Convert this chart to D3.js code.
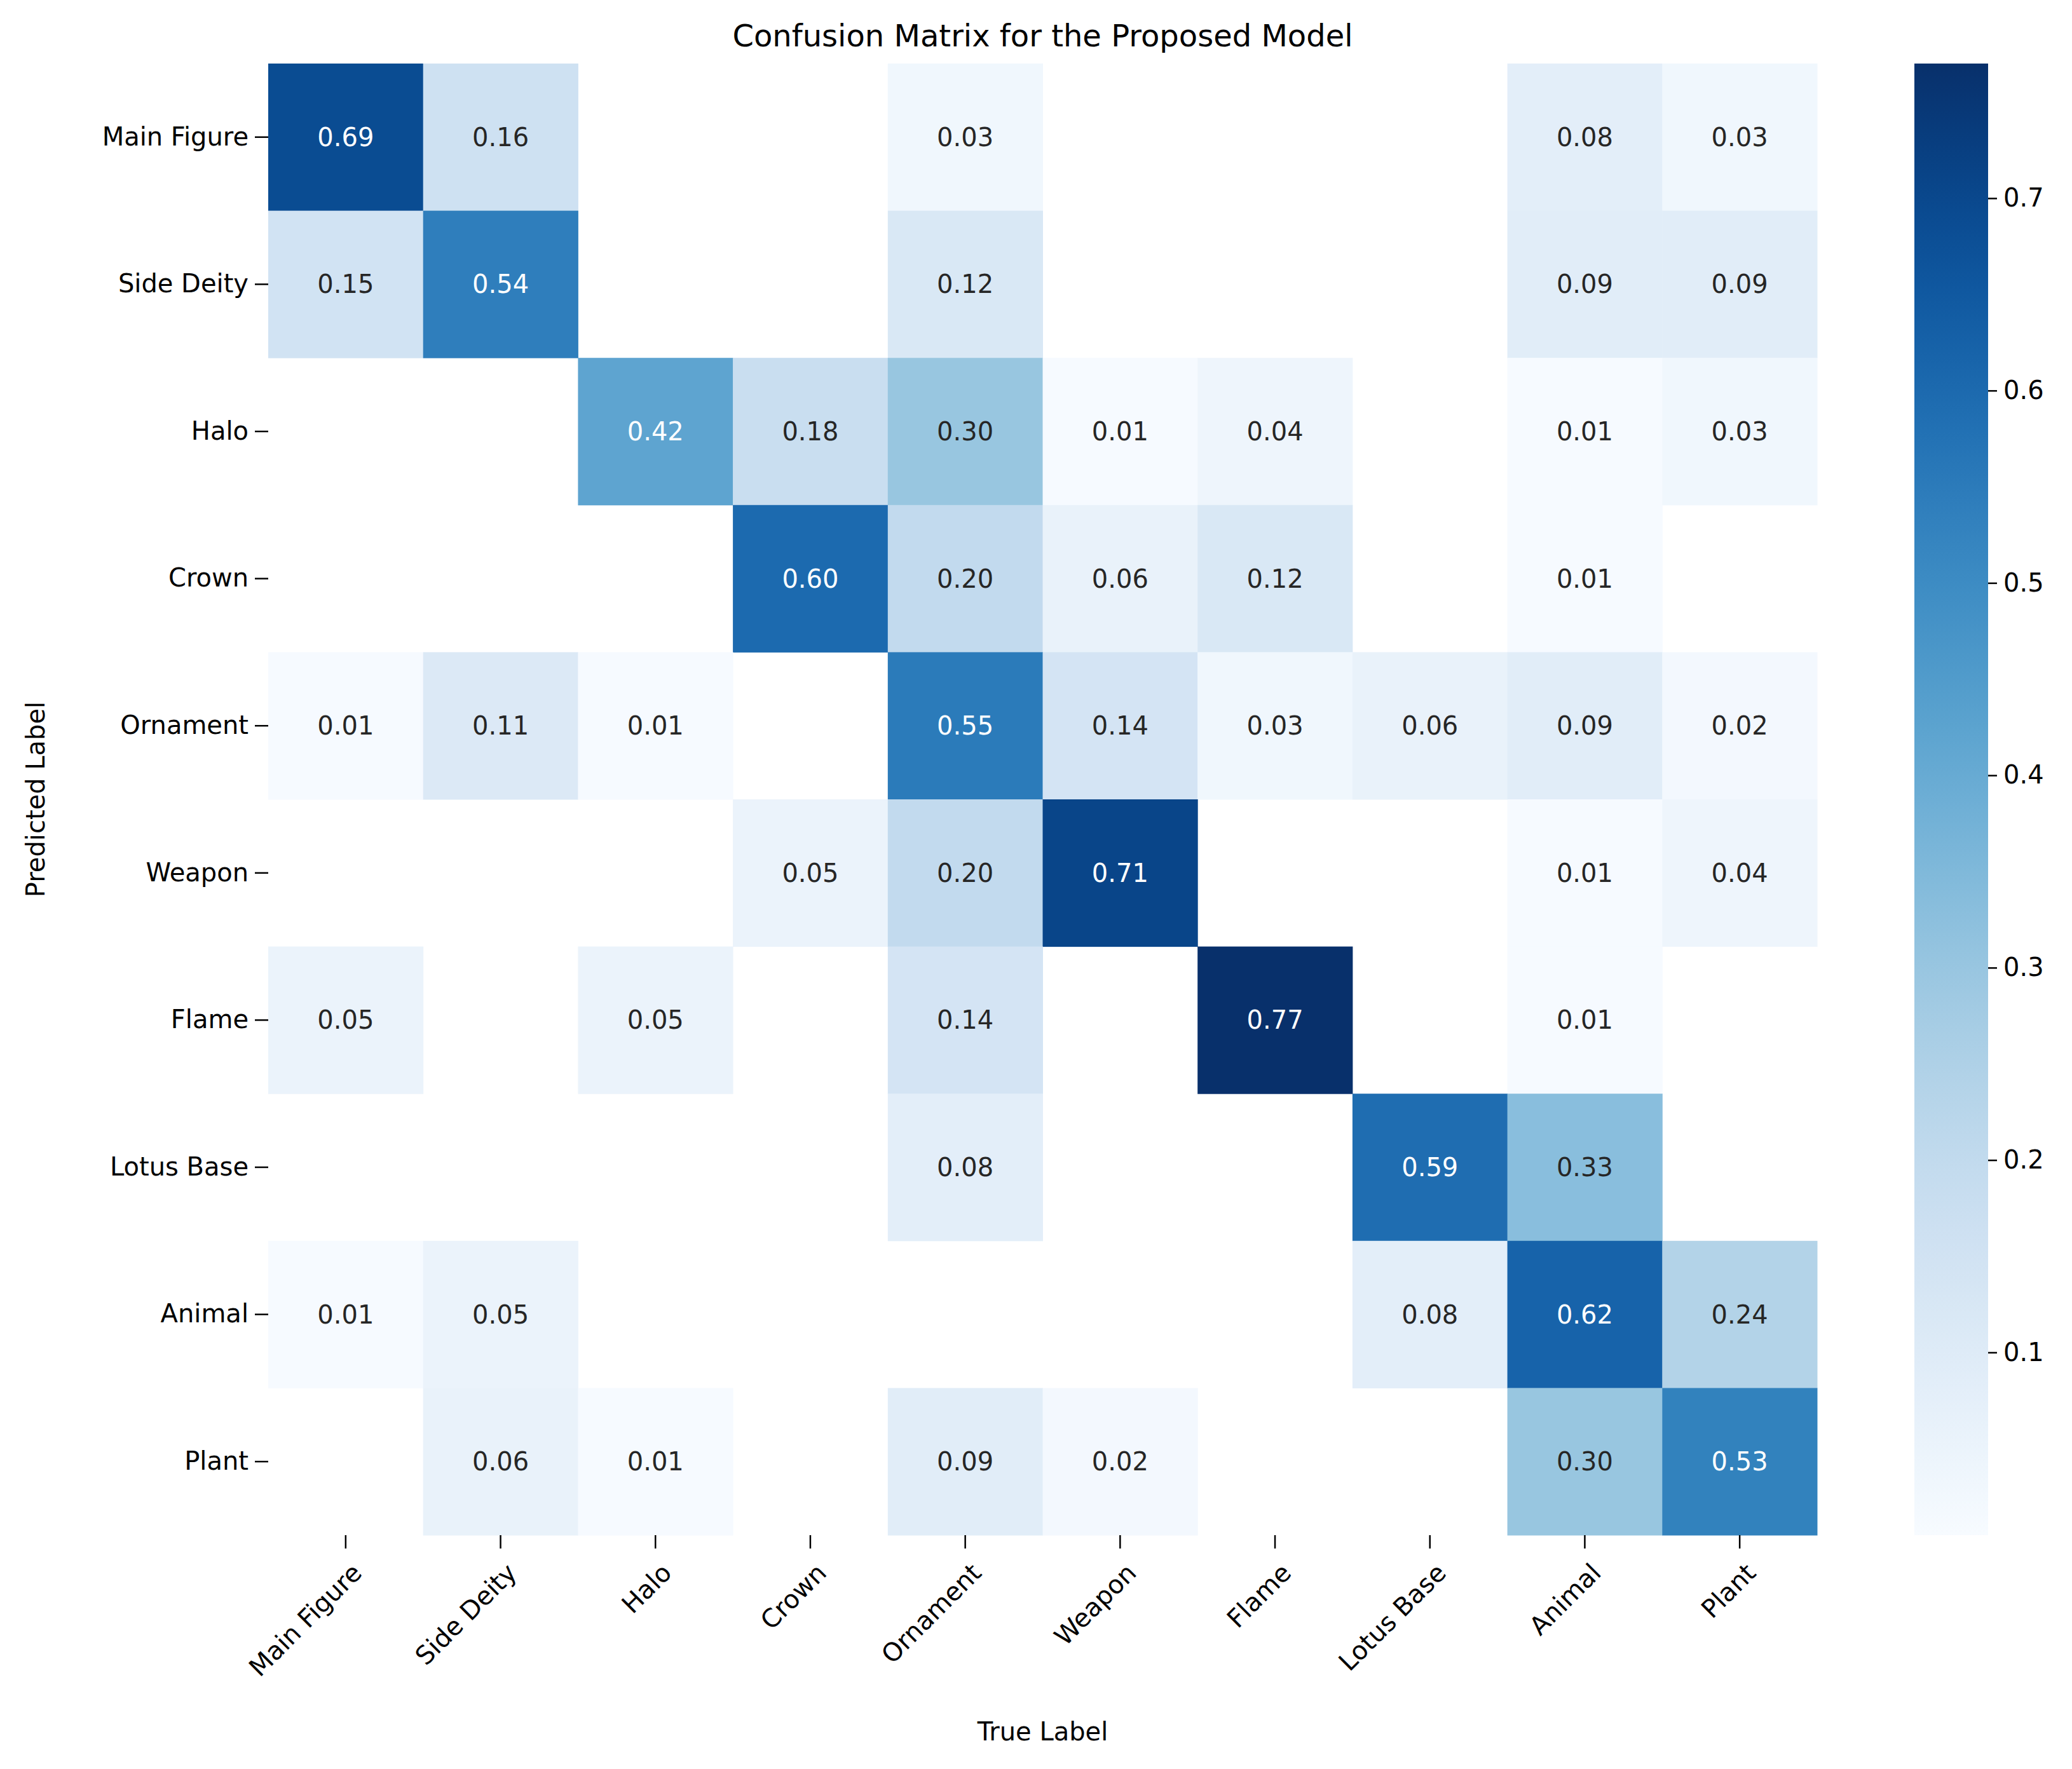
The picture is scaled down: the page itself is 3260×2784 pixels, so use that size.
<!DOCTYPE html><html><head><meta charset="utf-8">
<script src="https://cdn.jsdelivr.net/npm/d3@7"></script>
<style>body{margin:0;background:#fff}text{font-family:"DejaVu Sans",sans-serif}</style></head>
<body><svg id="c" width="3260" height="2784"></svg>
<script>
const labels=["Main Figure","Side Deity","Halo","Crown","Ornament","Weapon","Flame","Lotus Base","Animal","Plant"];
const mainFigure=[0.69,0.16,0,0,0.03,0,0,0,0.08,0.03];
const sideDeity=[0.15,0.54,0,0,0.12,0,0,0,0.09,0.09];
const halo=[0,0,0.42,0.18,0.30,0.01,0.04,0,0.01,0.03];
const crown=[0,0,0,0.60,0.20,0.06,0.12,0,0.01,0];
const ornament=[0.01,0.11,0.01,0,0.55,0.14,0.03,0.06,0.09,0.02];
const weapon=[0,0,0,0.05,0.20,0.71,0,0,0.01,0.04];
const flame=[0.05,0,0.05,0,0.14,0,0.77,0,0.01,0];
const lotusBase=[0,0,0,0,0.08,0,0,0.59,0.33,0];
const animal=[0.01,0.05,0,0,0,0,0,0.08,0.62,0.24];
const plant=[0,0.06,0.01,0,0.09,0.02,0,0,0.30,0.53];
const matrix=[mainFigure,sideDeity,halo,crown,ornament,weapon,flame,lotusBase,animal,plant];
const cbTicks=[0.1,0.2,0.3,0.4,0.5,0.6,0.7];
const vmin=0.005,vmax=0.77;

const svg=d3.select("#c");
const L=422,R=2859,T=100,B=2416;
const x=d3.scaleBand().domain(labels).range([L,R]);
const y=d3.scaleBand().domain(labels).range([T,B]);
const color=d3.scaleSequential(d3.interpolateBlues).domain([vmin,vmax]);
const cells=[];
matrix.forEach((row,i)=>row.forEach((v,j)=>{if(v>0)cells.push({r:labels[i],c:labels[j],v});}));
svg.selectAll("rect.cell").data(cells).join("rect").attr("x",d=>x(d.c)).attr("y",d=>y(d.r))
 .attr("width",x.bandwidth()+0.5).attr("height",y.bandwidth()+0.5).attr("fill",d=>color(d.v));
svg.selectAll("text.val").data(cells).join("text").attr("x",d=>x(d.c)+x.bandwidth()/2).attr("y",d=>y(d.r)+y.bandwidth()/2)
 .attr("text-anchor","middle").attr("dominant-baseline","central").attr("font-size",40)
 .attr("fill",d=>d.v>0.4?"#fff":"#262626").text(d=>d.v.toFixed(2));

const ya=svg.append("g").attr("transform",`translate(${L},0)`).call(d3.axisLeft(y).tickSize(21).tickPadding(10));
ya.select(".domain").remove();
ya.selectAll("line").attr("stroke","#000").attr("stroke-width",2.5);
ya.selectAll("text").attr("font-size",40).attr("fill","#000").attr("font-family","DejaVu Sans");
const xa=svg.append("g").attr("transform",`translate(0,${B})`).call(d3.axisBottom(x).tickSize(21).tickPadding(10));
xa.select(".domain").remove();
xa.selectAll("line").attr("stroke","#000").attr("stroke-width",2.5);
xa.selectAll("text").attr("font-size",40).attr("fill","#000").attr("font-family","DejaVu Sans")
 .attr("text-anchor","end").attr("dy","0.7em").attr("transform","translate(0,22) rotate(-45)").attr("y",0).attr("x",0);
xa.selectAll(".tick text").attr("transform","translate(8,42) rotate(-45)");

svg.append("text").attr("x",(L+R)/2).attr("y",56).attr("text-anchor","middle").attr("dominant-baseline","central")
 .attr("font-size",48).text("Confusion Matrix for the Proposed Model");
svg.append("text").attr("x",(L+R)/2).attr("y",2725).attr("text-anchor","middle").attr("dominant-baseline","central")
 .attr("font-size",40).text("True Label");
svg.append("text").attr("transform",`translate(56,${(T+B)/2}) rotate(-90)`).attr("text-anchor","middle").attr("dominant-baseline","central")
 .attr("font-size",40).text("Predicted Label");

// colorbar
const cx0=3012,cx1=3128;
const cy=d3.scaleLinear().domain([vmin,vmax]).range([B,T]);
const defs=svg.append("defs");
const g=defs.append("linearGradient").attr("id","cb").attr("x1",0).attr("x2",0).attr("y1",1).attr("y2",0);
d3.range(0,1.001,0.05).forEach(t=>g.append("stop").attr("offset",t).attr("stop-color",d3.interpolateBlues(t)));
svg.append("rect").attr("x",cx0).attr("y",T).attr("width",cx1-cx0).attr("height",B-T).attr("fill","url(#cb)");
const ca=svg.append("g").attr("transform",`translate(${cx1},0)`).call(d3.axisRight(cy).tickValues(cbTicks).tickFormat(d3.format(".1f")).tickSize(14).tickPadding(10));
ca.select(".domain").remove();
ca.selectAll("line").attr("stroke","#000").attr("stroke-width",2.5);
ca.selectAll("text").attr("font-size",40).attr("fill","#000").attr("font-family","DejaVu Sans");
</script></body></html>
